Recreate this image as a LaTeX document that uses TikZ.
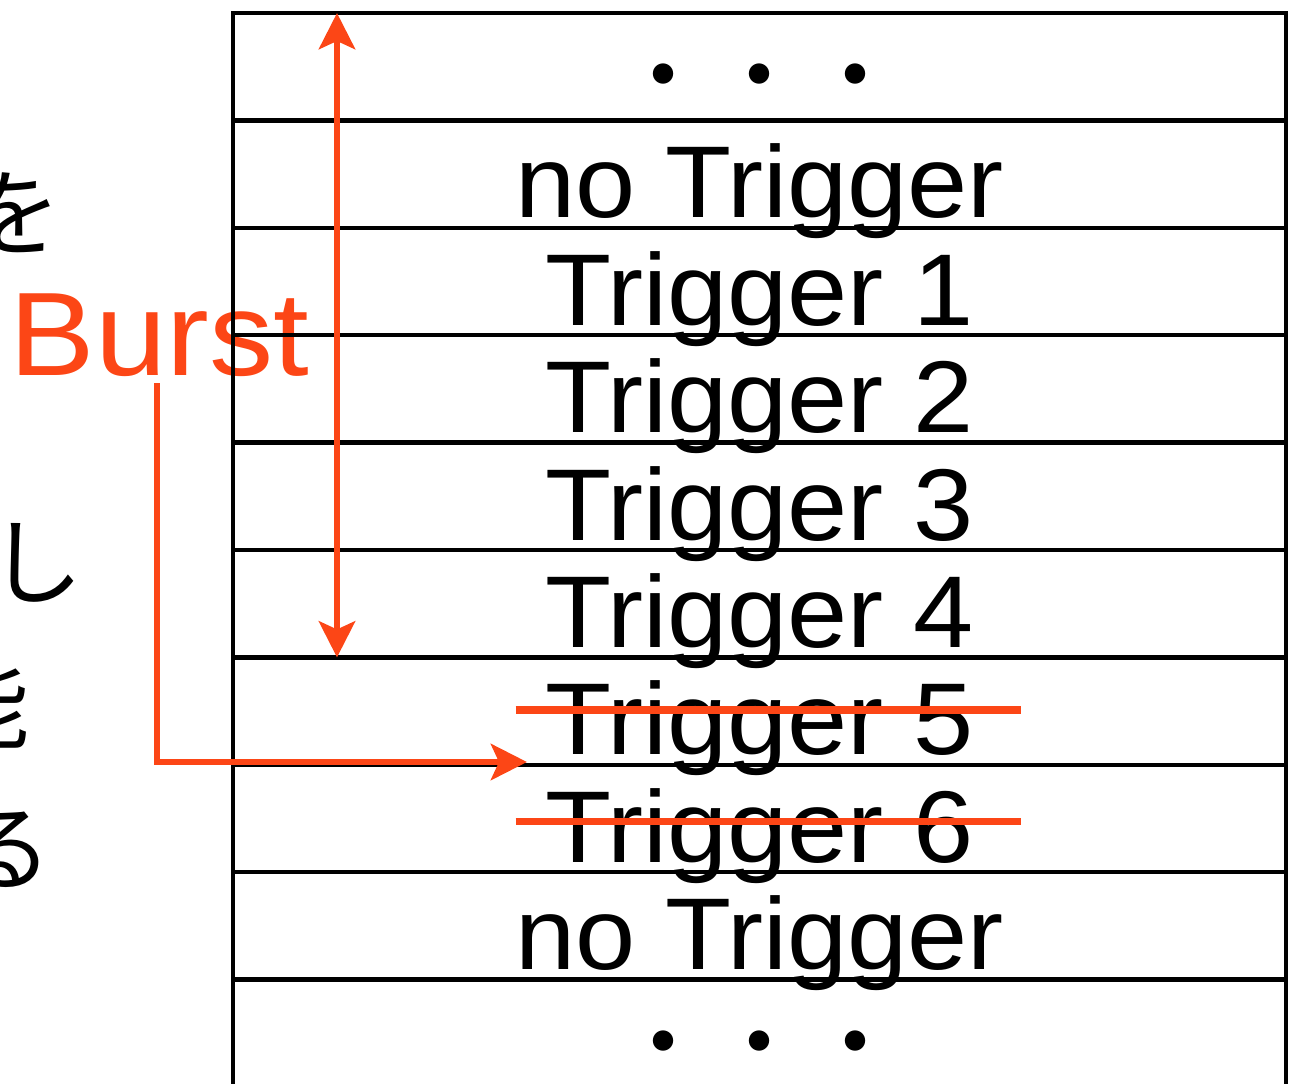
\documentclass[tikz,border=0pt]{standalone}
\usepackage{fontspec}
\setmainfont{Liberation Sans}
\newfontfamily\jpfont{Noto Sans CJK JP}
\newfontfamily\trigfont[FakeStretch=1.06]{Liberation Sans}
\newfontfamily\burstfont[FakeStretch=1.08]{Liberation Sans}
\usetikzlibrary{arrows.meta,calc}
\definecolor{burstred}{RGB}{252,70,22}
\tikzset{bigtip/.tip={Stealth[length=18pt,width=18pt,inset=4pt]}}
\begin{document}
\begin{tikzpicture}[x=0.5pt,y=-0.5pt,
  rowbox/.style={draw=black,line width=2.2pt,minimum width=526.5pt,minimum height=53.7pt,inner sep=0pt,outer sep=0pt,anchor=north west},
  lbl/.style={inner sep=0pt,outer sep=0pt,anchor=base,font=\trigfont\fontsize{51pt}{54pt}\selectfont},
  dots/.style={inner sep=0pt,outer sep=0pt,anchor=base,font=\jpfont\fontsize{48pt}{50pt}\selectfont},
  jp/.style={inner sep=0pt,outer sep=0pt,font=\jpfont\fontsize{47.5pt}{50pt}\selectfont},
  redline/.style={draw=burstred,line width=3.4pt},
  strike/.style={draw=burstred,line width=3.8pt}
]
\useasboundingbox (0,0) rectangle (1299,1083);
\clip (0,0) rectangle (1299,1083);
% Burst label (under the table lines)
\node[inner sep=0pt,outer sep=0pt,anchor=base west,text=burstred,font=\burstfont\fontsize{59.4pt}{62pt}\selectfont] (burst) at (10,375) {Burst};
% rows
\foreach \i in {0,...,9}{
  \node[rowbox] (r\i) at (233,{13+107.4*\i}) {};
}
% row texts
\node[dots] (t0) at ([yshift=5pt]r0.south) {・・・};
\node[lbl] (t1) at ([yshift=5pt]r1.south) {no Trigger};
\node[lbl] (t2) at ([yshift=5pt]r2.south) {Trigger 1};
\node[lbl] (t3) at ([yshift=5pt]r3.south) {Trigger 2};
\node[lbl] (t4) at ([yshift=5pt]r4.south) {Trigger 3};
\node[lbl] (t5) at ([yshift=5pt]r5.south) {Trigger 4};
\node[lbl] (t6) at ([yshift=5pt]r6.south) {Trigger 5};
\node[lbl] (t7) at ([yshift=5pt]r7.south) {Trigger 6};
\node[lbl] (t8) at ([yshift=5pt]r8.south) {no Trigger};
\node[dots] (t9) at ([yshift=5pt]r9.south) {・・・};
% strike-throughs
\draw[strike] ([shift={(-122pt,22.5pt)}]t6.base) -- ([shift={(130.5pt,22.5pt)}]t6.base);
\draw[strike] ([shift={(-122pt,20.3pt)}]t7.base) -- ([shift={(130.5pt,20.3pt)}]t7.base);
% Japanese fragments at the left edge
\node[jp] (j1) at (14,213) {を};
\node[jp] (j2) at (36,563) {し};
\node[jp] (j3) at (-18,705) {能};
\node[jp] (j4) at (5,850) {る};
% burst range arrow
\coordinate (vx) at (337,0);
\draw[redline,arrows={bigtip-bigtip}] (r0.north -| vx) -- (r6.north -| vx);
% L arrow
\coordinate (ls) at (157,383);
\coordinate (le) at (527,762);
\draw[redline,arrows={-bigtip}] (ls) |- (le);
\end{tikzpicture}
\end{document}
